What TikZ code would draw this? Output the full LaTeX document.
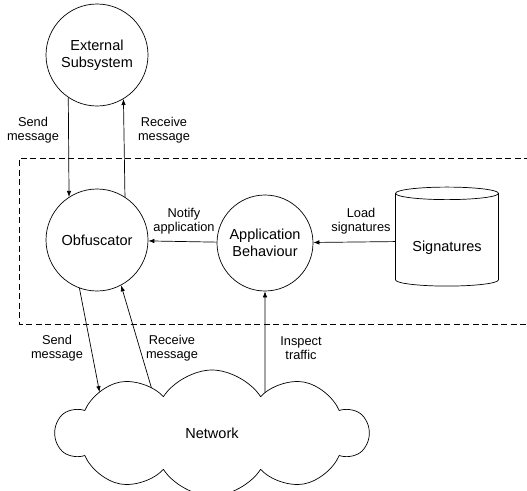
\documentclass[tikz,border=0pt]{standalone}
\usepackage{fontspec}
\setmainfont{Liberation Sans}
\usetikzlibrary{shapes.geometric,shapes.symbols,arrows.meta,intersections}
\tikzset{
    proc/.style={draw, circle, minimum size=102pt, inner sep=0pt, align=center, font=\fontsize{14.5}{17}\selectfont},
    flow/.style={-{Latex[length=6pt,width=4.5pt]}},
    lbl/.style={align=center, font=\fontsize{12.8}{14.5}\selectfont},
}

\begin{document}
\begin{tikzpicture}[x=1pt, y=-1pt, line width=0.7pt]
    \useasboundingbox (0,0) rectangle (527,490);
    \draw[dash pattern=on 6pt off 3.5pt] (530,158) -- (19,158) -- (19,324) -- (530,324);
    \node[proc] (ext) at (97,55) {External\\Subsystem};
    \node[proc] (obf) at (97,240) {Obfuscator};
    \node[proc, minimum size=96pt] (app) at (265,243) {Application\\Behaviour};
    \node[draw, cylinder, shape border rotate=90, aspect=0.23, minimum width=103pt, minimum height=99pt,
        label={[font=\fontsize{14.5}{17}\selectfont, yshift=-7pt]center:Signatures}] (sig) at (447,241) {\phantom{Signatures}};
    \node[draw, cloud, cloud puffs=10, cloud puff arc=115, cloud ignores aspect, shape border rotate=8,
        minimum width=312pt, minimum height=126pt, name path=netpath, font=\fontsize{14.5}{17}\selectfont] (net) at (212,433) {Network};
    % outside
    \draw[flow] (ext.-124) -- (obf.123);
    \draw[flow] (obf.57) -- (ext.-59);
    \node[lbl] (l1) at (33,130) {Send\\message};
    \node[lbl] (l2) at (164,130) {Receive\\message};
    % inside
    \draw[flow] (sig) -- (app);
    \draw[flow] (app) -- (obf);
    \node[lbl] (l3) at (184,221) {Notify\\application};
    \node[lbl] (l4) at (361,221) {Load\\signatures};
    % network, ends found on the cloud border
    \path[name path=sendline] (obf.-110) -- (104,415);
    \path[name path=recvline] (obf.-62) -- (158,410);
    \path[name path=inspline] (app.south) -- ++(0,150);
    \path[name intersections={of=netpath and sendline, sort by=sendline, by={netsend}}];
    \path[name intersections={of=netpath and recvline, sort by=recvline, by={netrecv}}];
    \path[name intersections={of=netpath and inspline, sort by=inspline, by={netinsp}}];
    \draw[flow] (obf.-110) -- (netsend);
    \draw[flow] (netrecv) -- (obf.-62);
    \draw[flow] (netinsp) -- (app.south);
    \node[lbl] (l5) at (57,348) {Send\\message};
    \node[lbl] (l6) at (172,348) {Receive\\message};
    \node[lbl] (l7) at (301,348) {Inspect\\traffic};
\end{tikzpicture}
\end{document}
